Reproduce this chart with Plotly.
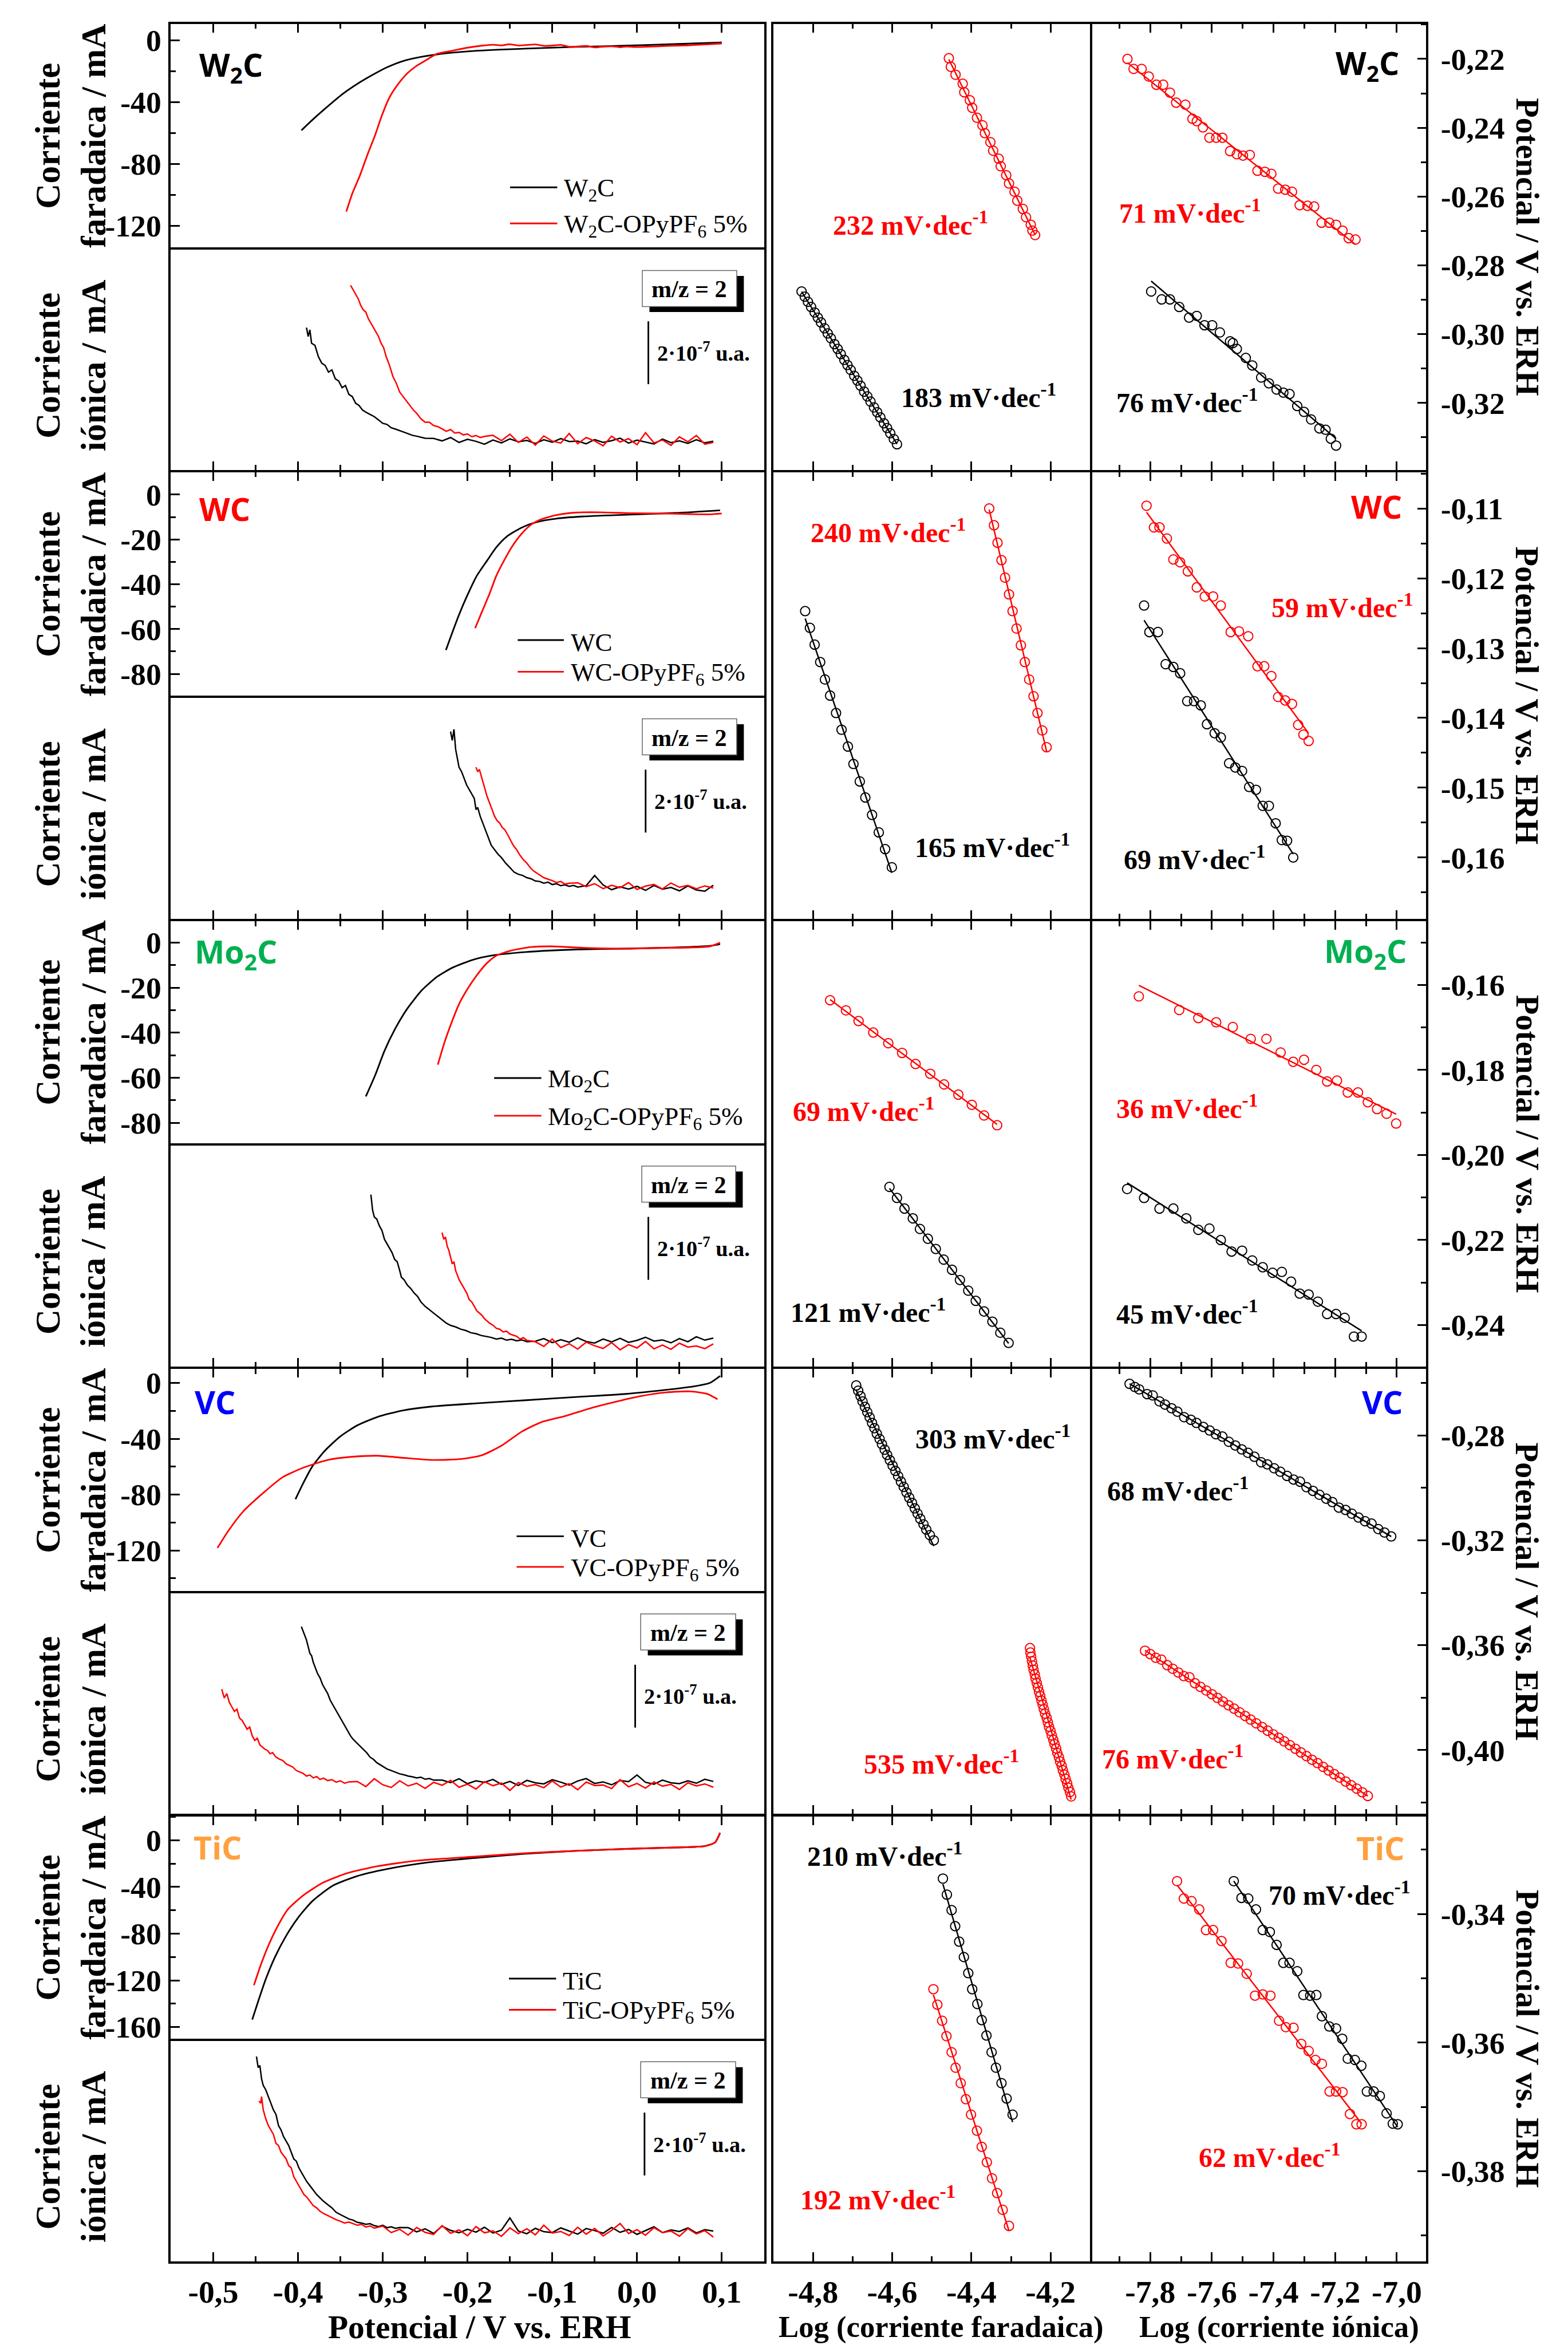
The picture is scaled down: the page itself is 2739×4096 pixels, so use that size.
import numpy as np
import plotly.graph_objects as go

# ======================= tick labels =======================
POT_TICKS = [-0.5, -0.4, -0.3, -0.2, -0.1, 0.0, 0.1]
POT_TICKTEXT = ["-0,5", "-0,4", "-0,3", "-0,2", "-0,1", "0,0", "0,1"]
LOGF_TICKS = [-4.8, -4.6, -4.4, -4.2]
LOGF_TICKTEXT = ["-4,8", "-4,6", "-4,4", "-4,2"]
LOGI_TICKS = [-7.8, -7.6, -7.4, -7.2, -7.0]
LOGI_TICKTEXT = ["-7,8", "-7,6", "-7,4", "-7,2", "-7,0"]

FAR_TICKS = [[0, -40, -80, -120], [0, -20, -40, -60, -80], [0, -20, -40, -60, -80],
             [0, -40, -80, -120], [0, -40, -80, -120, -160]]
FAR_TICKTEXT = [["0", "-40", "-80", "-120"], ["0", "-20", "-40", "-60", "-80"],
                ["0", "-20", "-40", "-60", "-80"], ["0", "-40", "-80", "-120"],
                ["0", "-40", "-80", "-120", "-160"]]
E_TICKS = [[-0.22, -0.24, -0.26, -0.28, -0.30, -0.32],
           [-0.11, -0.12, -0.13, -0.14, -0.15, -0.16],
           [-0.16, -0.18, -0.20, -0.22, -0.24],
           [-0.28, -0.32, -0.36, -0.40],
           [-0.34, -0.36, -0.38]]
E_TICKTEXT = [["-0,22", "-0,24", "-0,26", "-0,28", "-0,30", "-0,32"],
              ["-0,11", "-0,12", "-0,13", "-0,14", "-0,15", "-0,16"],
              ["-0,16", "-0,18", "-0,20", "-0,22", "-0,24"],
              ["-0,28", "-0,32", "-0,36", "-0,40"],
              ["-0,34", "-0,36", "-0,38"]]

MAT_LABELS = ["W<sub>2</sub>C", "WC", "Mo<sub>2</sub>C", "VC", "TiC"]
MAT_COLORS = ["#000000", "#ff0000", "#00b050", "#0000ff", "#ffa040"]
LEG_PURE = ["W<sub>2</sub>C", "WC", "Mo<sub>2</sub>C", "VC", "TiC"]
LEG_MOD = ["W<sub>2</sub>C-OPyPF<sub>6</sub> 5%", "WC-OPyPF<sub>6</sub> 5%",
           "Mo<sub>2</sub>C-OPyPF<sub>6</sub> 5%", "VC-OPyPF<sub>6</sub> 5%",
           "TiC-OPyPF<sub>6</sub> 5%"]

# Tafel slopes (mV/dec)
SLOPE_FAR_MOD = [232, 240, 69, 535, 192]
SLOPE_FAR_PURE = [183, 165, 121, 303, 210]
SLOPE_ION_MOD = [71, 59, 36, 76, 62]
SLOPE_ION_PURE = [76, 69, 45, 68, 70]

# ======================= faradaic current (mA) vs E =======================
W2C_FAR_X = [-0.396, -0.383, -0.365, -0.348, -0.330, -0.312, -0.295, -0.277, -0.254, -0.230, -0.189, -0.131, -0.072, -0.013, 0.045, 0.100]
W2C_FAR_Y = [-58.3, -51.5, -42.8, -35.0, -28.2, -22.4, -17.5, -13.6, -10.7, -8.75, -6.8, -5.4, -4.3, -3.5, -2.5, -1.4]
W2C_MOD_FAR_X = [-0.343, -0.336, -0.327, -0.318, -0.309, -0.301, -0.292, -0.283, -0.271, -0.260, -0.248, -0.236, -0.218, -0.201, -0.183, -0.170, -0.160, -0.150, -0.140, -0.131, -0.120, -0.110, -0.101, -0.090, -0.080, -0.072, -0.060, -0.050, -0.043, -0.030, -0.020, -0.013, 0.000, 0.016, 0.030, 0.045, 0.060, 0.074, 0.088, 0.100]
W2C_MOD_FAR_Y = [-110.8, -99.2, -87.5, -73.9, -61.3, -48.6, -36.9, -29.2, -21.4, -16.5, -12.6, -8.75, -6.8, -4.9, -3.5, -2.9, -3.3, -2.6, -3.4, -3.1, -2.7, -3.6, -3.5, -3.0, -4.2, -4.1, -3.7, -4.6, -4.3, -3.9, -4.5, -4.1, -4.4, -4.1, -3.8, -3.5, -3.3, -2.9, -2.5, -2.1]

WC_FAR_X = [-0.2255, -0.218, -0.210, -0.201, -0.189, -0.177, -0.166, -0.154, -0.136, -0.119, -0.095, -0.066, -0.013, 0.045, 0.098]
WC_FAR_Y = [-69.4, -61.6, -53.6, -45.6, -36.2, -29.5, -23.5, -18.8, -14.7, -12.3, -10.7, -9.8, -9.0, -8.2, -7.0]
WC_MOD_FAR_X = [-0.191, -0.183, -0.174, -0.166, -0.157, -0.148, -0.136, -0.125, -0.113, -0.095, -0.072, -0.043, -0.007, 0.028, 0.063, 0.086, 0.100]
WC_MOD_FAR_Y = [-59.6, -52.3, -44.2, -36.2, -29.5, -23.5, -17.4, -13.4, -11.0, -9.1, -8.0, -7.9, -8.3, -8.4, -8.7, -8.8, -8.4]

MO2C_FAR_X = [-0.320, -0.309, -0.298, -0.286, -0.271, -0.254, -0.236, -0.218, -0.195, -0.172, -0.131, -0.072, -0.013, 0.045, 0.086, 0.098]
MO2C_FAR_Y = [-68.3, -58.9, -48.1, -38.7, -29.3, -21.2, -15.2, -11.2, -7.8, -5.8, -4.2, -3.1, -2.7, -2.2, -1.5, -0.7]
MO2C_MOD_FAR_X = [-0.235, -0.227, -0.218, -0.210, -0.201, -0.189, -0.177, -0.166, -0.148, -0.125, -0.101, -0.072, -0.043, -0.007, 0.028, 0.063, 0.086, 0.098]
MO2C_MOD_FAR_Y = [-54.2, -44.1, -34.7, -27.3, -21.2, -14.5, -9.1, -5.8, -3.5, -2.0, -1.7, -2.2, -2.6, -2.7, -2.4, -2.2, -1.7, -0.1]

VC_FAR_X = [-0.403, -0.394, -0.383, -0.368, -0.350, -0.330, -0.306, -0.277, -0.242, -0.189, -0.131, -0.072, -0.013, 0.034, 0.069, 0.086, 0.098]
VC_FAR_Y = [-83.3, -72.0, -59.7, -48.4, -38.3, -30.4, -24.3, -19.8, -16.9, -14.6, -12.4, -10.1, -7.9, -5.0, -2.3, 0.0, 5.0]
VC_MOD_FAR_X = [-0.495, -0.482, -0.465, -0.441, -0.418, -0.394, -0.365, -0.336, -0.306, -0.277, -0.242, -0.207, -0.183, -0.160, -0.136, -0.113, -0.084, -0.054, -0.025, 0.004, 0.034, 0.063, 0.083, 0.095]
VC_MOD_FAR_Y = [-118.2, -105.8, -92.3, -78.8, -67.5, -60.8, -55.2, -52.9, -52.2, -53.6, -55.2, -54.5, -51.8, -45.0, -34.9, -28.1, -23.6, -18.0, -13.5, -9.5, -6.8, -6.1, -7.9, -11.7]

TIC_FAR_X = [-0.454, -0.447, -0.438, -0.427, -0.415, -0.400, -0.383, -0.359, -0.330, -0.295, -0.248, -0.189, -0.131, -0.072, -0.013, 0.045, 0.080, 0.092, 0.098]
TIC_FAR_Y = [-153.6, -138.0, -118.9, -99.8, -83.1, -66.4, -52.1, -38.9, -30.6, -24.6, -19.1, -15.0, -11.5, -9.1, -7.4, -6.2, -5.0, -1.9, 6.4]
TIC_MOD_FAR_X = [-0.452, -0.444, -0.435, -0.424, -0.412, -0.394, -0.371, -0.342, -0.306, -0.259, -0.189, -0.131, -0.072, -0.013, 0.045, 0.080, 0.092, 0.098]
TIC_MOD_FAR_Y = [-124.2, -107.0, -90.3, -73.6, -59.2, -47.3, -36.5, -28.2, -22.2, -17.4, -13.9, -11.0, -9.1, -7.4, -6.2, -5.0, -1.9, 6.4]

# ======================= ionic current m/z=2 (arb. units, 0-100) =======================
FLAT_X = [-0.45, -0.44, -0.43, -0.42, -0.41, -0.40, -0.39, -0.38, -0.37, -0.36, -0.35, -0.34, -0.33, -0.32, -0.31, -0.30, -0.29, -0.28, -0.27, -0.26, -0.25, -0.24, -0.23, -0.22, -0.21, -0.20, -0.19, -0.18, -0.17, -0.16, -0.15, -0.14, -0.13, -0.12, -0.11, -0.10, -0.09, -0.08, -0.07, -0.06, -0.05, -0.04, -0.03, -0.02, -0.01, 0.00, 0.01, 0.02, 0.03, 0.04, 0.05, 0.06, 0.07, 0.08, 0.09]

W2C_ION_X = [-0.390, -0.388, -0.386, -0.384, -0.380, -0.376, -0.372, -0.368, -0.364, -0.360, -0.356, -0.352, -0.348, -0.344, -0.340, -0.336, -0.332, -0.328, -0.324, -0.320, -0.315, -0.310, -0.305, -0.300, -0.295, -0.290, -0.285, -0.280, -0.275, -0.270, -0.265, -0.260, -0.255, -0.250]
W2C_ION_Y = [64, 60, 63, 57, 56, 51, 48, 47, 44, 45, 41, 40, 37, 38, 34, 33, 30, 29, 27, 26, 25, 24, 22.5, 21, 20.5, 19, 18.4, 17.6, 17.0, 16.3, 15.6, 15.2, 14.7, 14.3]
W2C_ION_FLAT = [14.2, 13.1, 14.6, 12.4, 13.8, 12.9, 11.6, 13.5, 12.2, 14.0, 12.7, 13.3, 11.9, 13.6, 12.5, 14.1, 12.8, 13.0, 11.8, 13.7, 12.4, 13.2, 14.3, 12.1, 13.4, 12.6, 11.7, 13.9, 12.3, 13.1, 12.0, 13.6, 12.2, 12.9]
W2C_MOD_ION_X = [-0.338, -0.335, -0.332, -0.329, -0.326, -0.323, -0.320, -0.317, -0.314, -0.311, -0.308, -0.305, -0.302, -0.299, -0.296, -0.292, -0.288, -0.284, -0.280, -0.276, -0.272, -0.268, -0.264, -0.260, -0.255, -0.250, -0.245, -0.240, -0.235, -0.230, -0.225, -0.220, -0.215, -0.210, -0.205, -0.200, -0.195, -0.190, -0.185, -0.180]
W2C_MOD_ION_Y = [83, 81, 79, 77, 74, 72, 71, 68, 66, 64, 62, 60, 57, 55, 51, 47, 42, 39, 35, 33, 31, 29, 27, 25.5, 23, 21.5, 21.5, 20, 19.5, 18.5, 17.4, 18.2, 16.6, 16.9, 15.8, 16.2, 15.0, 15.5, 14.6, 15.1]
W2C_MOD_ION_FLAT = [15.6, 13.2, 16.1, 12.4, 14.8, 11.2, 15.3, 13.0, 12.1, 16.4, 11.8, 14.6, 13.1, 10.9, 15.2, 12.6, 14.1, 11.4, 16.8, 12.2, 13.5, 11.1, 14.9, 12.7, 15.5, 11.6, 12.4]

WC_ION_X = [-0.220, -0.218, -0.216, -0.214, -0.212, -0.210, -0.207, -0.204, -0.201, -0.198, -0.195, -0.192, -0.190, -0.188, -0.185, -0.182, -0.179, -0.176, -0.172, -0.168, -0.164, -0.160, -0.155, -0.150, -0.145, -0.140, -0.135, -0.130, -0.125, -0.120, -0.115, -0.110, -0.105, -0.100, -0.095, -0.090, -0.085, -0.080, -0.075, -0.070]
WC_ION_Y = [84, 80, 85, 76, 72, 68, 66, 63, 60, 58, 56, 54, 49, 50, 46, 43, 40, 37, 33, 31, 29, 27.5, 25, 23, 21, 20, 19.5, 18.5, 18, 17, 16.8, 16, 16.5, 15.4, 15.8, 14.9, 15.3, 14.6, 15.0, 14.3]
WC_ION_FLAT = [14.9, 19.5, 15.2, 13.1, 14.4, 13.4, 14.6, 12.8, 15.0, 13.3, 14.1, 12.6, 14.8, 13.0, 12.4, 15.1]
WC_MOD_ION_X = [-0.190, -0.188, -0.186, -0.183, -0.180, -0.177, -0.174, -0.171, -0.168, -0.165, -0.162, -0.159, -0.156, -0.153, -0.150, -0.146, -0.142, -0.138, -0.134, -0.130, -0.126, -0.122, -0.118, -0.114, -0.110, -0.105, -0.100, -0.095, -0.090, -0.085, -0.080]
WC_MOD_ION_Y = [68, 66, 67, 63, 59, 55, 52, 49, 46, 44, 43, 41, 40, 38, 36, 33, 31, 28.5, 26.5, 25, 23, 21.5, 20.5, 19.6, 18.5, 17.8, 17.2, 16.3, 16.8, 15.6, 16.0]
WC_MOD_ION_FLAT = [16.2, 14.5, 15.8, 13.6, 15.1, 14.0, 16.3, 13.2, 14.7, 15.5, 13.4, 16.1, 14.2, 15.0, 13.5, 14.8, 13.9]

MO2C_ION_X = [-0.314, -0.312, -0.310, -0.307, -0.304, -0.301, -0.298, -0.295, -0.292, -0.289, -0.286, -0.283, -0.280, -0.278, -0.275, -0.271, -0.267, -0.263, -0.259, -0.255, -0.250, -0.245, -0.240, -0.235, -0.230, -0.225, -0.220, -0.214, -0.208, -0.202, -0.196, -0.190, -0.184, -0.178, -0.172, -0.166, -0.160, -0.154, -0.148, -0.142, -0.136, -0.130]
MO2C_ION_Y = [77, 70, 67, 66, 63, 61, 57, 55, 53, 51, 48, 47, 43, 40, 39, 36.5, 35, 33, 31.5, 29, 27, 25.5, 24, 22.5, 21, 19.5, 18.5, 17.8, 16.8, 16.2, 15.2, 14.8, 14.0, 13.6, 13.1, 12.4, 12.8, 11.9, 12.3, 11.6, 12.0, 11.2]
MO2C_ION_FLAT = [11.4, 12.6, 10.8, 12.1, 11.0, 12.9, 11.3, 10.6, 12.4, 11.1, 12.7, 10.9, 11.8, 13.2, 11.5, 12.0, 10.7, 12.6, 11.2, 13.4, 11.9, 12.8]
MO2C_MOD_ION_X = [-0.230, -0.228, -0.226, -0.224, -0.222, -0.220, -0.218, -0.216, -0.214, -0.212, -0.210, -0.207, -0.204, -0.201, -0.198, -0.195, -0.192, -0.189, -0.186, -0.183, -0.180, -0.177, -0.174, -0.170, -0.166, -0.162, -0.158, -0.154, -0.150, -0.146, -0.142, -0.138, -0.134, -0.130]
MO2C_MOD_ION_Y = [60, 57, 58, 54, 52, 49, 46, 47, 43, 41, 39, 37, 35, 33, 30, 29, 27, 25, 24, 23, 21.5, 20.5, 19.5, 18.6, 17.2, 16.8, 15.6, 15.9, 14.6, 14.1, 13.6, 12.4, 13.0, 11.8]
MO2C_MOD_ION_FLAT = [11.2, 9.1, 12.4, 8.6, 10.3, 7.9, 11.0, 9.4, 8.2, 10.8, 7.6, 9.9, 8.4, 11.3, 8.0, 9.7, 7.8, 10.5, 8.8, 9.3, 8.1, 10.2]

VC_ION_X = [-0.396, -0.394, -0.392, -0.390, -0.388, -0.386, -0.384, -0.382, -0.380, -0.377, -0.374, -0.371, -0.368, -0.365, -0.362, -0.359, -0.356, -0.353, -0.350, -0.347, -0.344, -0.341, -0.338, -0.335, -0.331, -0.327, -0.323, -0.319, -0.315, -0.311, -0.307, -0.303, -0.299, -0.295, -0.290, -0.285, -0.280, -0.275, -0.270, -0.265, -0.260, -0.255, -0.250, -0.245, -0.240]
VC_ION_Y = [84, 82, 80, 78, 75, 72, 71, 68, 66, 63, 61, 58, 56, 54, 51, 49, 47, 45, 43, 41, 39, 37, 35, 33.5, 32, 30.5, 29, 27.5, 25.5, 24.5, 23, 22, 21, 20.2, 19.5, 18.8, 18.0, 17.6, 17.0, 16.7, 16.2, 16.5, 15.6, 15.9, 15.2]
VC_ION_FLAT = [15.2, 14.1, 15.8, 13.6, 14.9, 14.2, 15.5, 13.3, 14.6, 12.8, 15.1, 14.0, 13.5, 15.4, 14.3, 13.0, 14.8, 15.9, 13.7, 14.4, 13.1, 15.0, 14.5, 17.5, 14.2, 13.4, 15.2, 14.0, 13.6, 14.9, 13.8, 15.6, 14.6]
VC_MOD_ION_X = [-0.490, -0.487, -0.484, -0.481, -0.478, -0.475, -0.472, -0.469, -0.466, -0.463, -0.460, -0.457, -0.454, -0.451, -0.448, -0.445, -0.442, -0.439, -0.436, -0.433, -0.430, -0.426, -0.422, -0.418, -0.414, -0.410, -0.406, -0.402, -0.398, -0.394, -0.390, -0.386, -0.382, -0.378, -0.374, -0.370, -0.365, -0.360, -0.355, -0.350, -0.345, -0.340]
VC_MOD_ION_Y = [56, 52, 54, 50, 48, 46, 47, 43, 42, 40, 38, 39, 35, 33, 34, 31, 30, 29, 28.5, 27, 27.5, 25.5, 24.6, 24, 22.5, 21.8, 21, 19.5, 18.8, 18.2, 17.0, 17.5, 16.2, 16.8, 15.5, 16.1, 15.0, 15.4, 14.3, 14.9, 13.8, 14.4]
VC_MOD_ION_FLAT = [14.6, 12.3, 15.8, 13.1, 11.9, 14.9, 12.6, 13.8, 11.5, 14.2, 12.9, 15.1, 12.0, 13.4, 11.2, 14.5, 12.7, 13.9, 10.6, 14.1, 12.4, 13.2, 11.8, 14.8, 12.1, 13.6, 10.9, 14.3, 12.8, 13.0, 11.4, 15.4, 12.2, 13.7, 11.6, 14.4, 12.5, 13.3, 11.0, 14.0, 12.6, 13.5, 12.0]

TIC_ION_X = [-0.449, -0.447, -0.445, -0.443, -0.441, -0.438, -0.435, -0.432, -0.429, -0.426, -0.423, -0.420, -0.417, -0.414, -0.411, -0.408, -0.405, -0.402, -0.399, -0.396, -0.393, -0.390, -0.386, -0.382, -0.378, -0.374, -0.370, -0.365, -0.360, -0.355, -0.350, -0.345, -0.340, -0.335, -0.330, -0.325, -0.320, -0.315, -0.310, -0.305, -0.300, -0.295, -0.290, -0.285, -0.280]
TIC_ION_Y = [92, 87, 88, 82, 79, 77, 74, 71, 68, 66, 61, 59, 56, 54, 52, 49, 46, 45, 42, 40, 38, 36, 34, 32, 30, 28.5, 27, 25.5, 24, 22, 21, 20, 19, 18.5, 17.5, 17.2, 16.6, 16.9, 16.0, 15.6, 16.2, 15.1, 15.5, 14.8, 15.2]
TIC_ION_FLAT = [15.1, 13.2, 14.6, 12.5, 15.8, 13.9, 12.8, 14.4, 13.1, 15.3, 12.7, 14.0, 19.5, 13.6, 12.4, 14.8, 13.3, 12.9, 15.0, 13.5, 12.2, 14.7, 13.8, 12.6, 15.2, 13.0, 14.3, 12.1, 13.7, 15.5, 12.9, 14.1, 13.4, 15.0, 12.7, 14.2, 13.6]
TIC_MOD_ION_X = [-0.446, -0.444, -0.443, -0.441, -0.438, -0.435, -0.432, -0.429, -0.426, -0.423, -0.420, -0.417, -0.414, -0.411, -0.408, -0.405, -0.402, -0.399, -0.396, -0.393, -0.390, -0.386, -0.382, -0.378, -0.374, -0.370, -0.365, -0.360, -0.355, -0.350, -0.345, -0.340, -0.335, -0.330, -0.325, -0.320, -0.315, -0.310]
TIC_MOD_ION_Y = [72, 71, 74, 68, 64, 61, 59, 57, 53, 52, 49, 47.5, 46, 43, 42, 38, 36, 34, 32, 30, 29, 27, 25, 24, 22.5, 21.5, 20.5, 19.6, 18.7, 18.0, 17.2, 17.6, 16.8, 16.2, 16.6, 15.4, 15.9, 14.9]
TIC_MOD_ION_FLAT = [15.8, 12.9, 14.4, 11.8, 15.2, 13.0, 12.1, 16.0, 12.6, 14.1, 11.5, 15.6, 12.8, 13.7, 11.2, 15.0, 12.4, 14.6, 11.9, 16.2, 12.7, 13.4, 11.6, 15.3, 12.2, 14.8, 11.4, 13.9, 17.0, 12.5, 14.2, 11.7, 15.1, 12.9, 13.6, 11.3, 14.7, 12.3, 13.8, 10.9]

# ======================= Tafel data: E (V) vs log(current) =======================
W2C_TF_FAR_MOD_X = [-4.457, -4.452, -4.440, -4.422, -4.418, -4.404, -4.398, -4.386, -4.372, -4.366, -4.352, -4.345, -4.331, -4.326, -4.312, -4.305, -4.291, -4.284, -4.270, -4.262, -4.250, -4.246, -4.239]
W2C_TF_FAR_MOD_Y = [-0.2198, -0.2223, -0.2246, -0.2272, -0.2297, -0.2320, -0.2342, -0.2371, -0.2393, -0.2416, -0.2442, -0.2467, -0.2490, -0.2512, -0.2538, -0.2562, -0.2586, -0.2612, -0.2636, -0.2660, -0.2682, -0.2699, -0.2712]
W2C_TF_FAR_PURE_X = [-4.829, -4.821, -4.813, -4.805, -4.796, -4.788, -4.780, -4.771, -4.763, -4.755, -4.746, -4.738, -4.730, -4.721, -4.713, -4.705, -4.696, -4.688, -4.680, -4.671, -4.663, -4.655, -4.646, -4.638, -4.630, -4.621, -4.613, -4.605, -4.596, -4.588]
W2C_TF_FAR_PURE_Y = [-0.2876, -0.2891, -0.2906, -0.2921, -0.2937, -0.2952, -0.2966, -0.2983, -0.2998, -0.3012, -0.3029, -0.3043, -0.3058, -0.3075, -0.3090, -0.3104, -0.3121, -0.3135, -0.3150, -0.3167, -0.3181, -0.3196, -0.3213, -0.3227, -0.3242, -0.3259, -0.3273, -0.3288, -0.3305, -0.3320]
W2C_TF_ION_MOD_X = [-7.874, -7.854, -7.828, -7.805, -7.780, -7.758, -7.736, -7.716, -7.686, -7.663, -7.649, -7.629, -7.608, -7.586, -7.566, -7.541, -7.519, -7.499, -7.477, -7.452, -7.428, -7.407, -7.385, -7.362, -7.340, -7.315, -7.290, -7.268, -7.244, -7.219, -7.197, -7.176, -7.156, -7.134]
W2C_TF_ION_MOD_Y = [-0.2200, -0.2229, -0.2229, -0.2251, -0.2275, -0.2275, -0.2298, -0.2327, -0.2333, -0.2374, -0.2381, -0.2399, -0.2429, -0.2429, -0.2429, -0.2468, -0.2477, -0.2481, -0.2479, -0.2525, -0.2528, -0.2534, -0.2577, -0.2580, -0.2586, -0.2625, -0.2627, -0.2629, -0.2676, -0.2676, -0.2682, -0.2699, -0.2721, -0.2725]
W2C_TF_ION_PURE_X = [-7.797, -7.763, -7.736, -7.706, -7.674, -7.649, -7.624, -7.599, -7.574, -7.541, -7.532, -7.519, -7.490, -7.469, -7.440, -7.415, -7.390, -7.368, -7.348, -7.323, -7.301, -7.278, -7.251, -7.231, -7.214, -7.197]
W2C_TF_ION_PURE_Y = [-0.2876, -0.2899, -0.2899, -0.2921, -0.2952, -0.2947, -0.2974, -0.2974, -0.2995, -0.3021, -0.3026, -0.3043, -0.3069, -0.3091, -0.3126, -0.3143, -0.3161, -0.3170, -0.3174, -0.3209, -0.3226, -0.3248, -0.3274, -0.3278, -0.3304, -0.3324]

WC_TF_FAR_MOD_X = [-4.355, -4.343, -4.334, -4.324, -4.315, -4.305, -4.296, -4.286, -4.275, -4.265, -4.254, -4.243, -4.233, -4.221, -4.210]
WC_TF_FAR_MOD_Y = [-0.1100, -0.1124, -0.1149, -0.1174, -0.1199, -0.1223, -0.1247, -0.1272, -0.1296, -0.1320, -0.1345, -0.1369, -0.1393, -0.1418, -0.1442]
WC_TF_FAR_PURE_X = [-4.820, -4.808, -4.796, -4.782, -4.770, -4.757, -4.742, -4.728, -4.712, -4.698, -4.682, -4.668, -4.651, -4.634, -4.618, -4.601]
WC_TF_FAR_PURE_Y = [-0.1247, -0.1271, -0.1295, -0.1320, -0.1345, -0.1368, -0.1393, -0.1417, -0.1441, -0.1466, -0.1491, -0.1514, -0.1539, -0.1564, -0.1588, -0.1614]
WC_TF_ION_MOD_X = [-7.812, -7.788, -7.770, -7.746, -7.725, -7.703, -7.678, -7.649, -7.623, -7.596, -7.571, -7.539, -7.512, -7.482, -7.452, -7.430, -7.407, -7.385, -7.362, -7.340, -7.320, -7.303, -7.286]
WC_TF_ION_MOD_Y = [-0.1096, -0.1127, -0.1127, -0.1143, -0.1173, -0.1177, -0.1190, -0.1213, -0.1226, -0.1226, -0.1239, -0.1277, -0.1276, -0.1283, -0.1326, -0.1326, -0.1340, -0.1370, -0.1375, -0.1380, -0.1410, -0.1424, -0.1433]
WC_TF_ION_PURE_X = [-7.820, -7.803, -7.775, -7.750, -7.725, -7.703, -7.680, -7.658, -7.636, -7.616, -7.591, -7.571, -7.544, -7.524, -7.502, -7.479, -7.457, -7.435, -7.415, -7.393, -7.373, -7.356, -7.336]
WC_TF_ION_PURE_Y = [-0.1239, -0.1277, -0.1277, -0.1323, -0.1327, -0.1336, -0.1376, -0.1376, -0.1382, -0.1409, -0.1422, -0.1428, -0.1465, -0.1471, -0.1476, -0.1499, -0.1503, -0.1526, -0.1526, -0.1551, -0.1575, -0.1576, -0.1600]

MO2C_TF_FAR_MOD_X = [-4.757, -4.717, -4.685, -4.648, -4.610, -4.575, -4.541, -4.504, -4.469, -4.433, -4.399, -4.368, -4.335]
MO2C_TF_FAR_MOD_Y = [-0.1636, -0.1660, -0.1685, -0.1712, -0.1737, -0.1760, -0.1786, -0.1809, -0.1834, -0.1858, -0.1882, -0.1907, -0.1930]
MO2C_TF_FAR_PURE_X = [-4.607, -4.588, -4.569, -4.548, -4.530, -4.510, -4.490, -4.470, -4.449, -4.429, -4.408, -4.389, -4.368, -4.347, -4.327, -4.306]
MO2C_TF_FAR_PURE_Y = [-0.2075, -0.2101, -0.2126, -0.2149, -0.2174, -0.2197, -0.2221, -0.2246, -0.2270, -0.2294, -0.2319, -0.2343, -0.2368, -0.2392, -0.2418, -0.2442]
MO2C_TF_ION_MOD_X = [-7.837, -7.706, -7.644, -7.586, -7.532, -7.474, -7.423, -7.377, -7.336, -7.301, -7.261, -7.226, -7.194, -7.159, -7.126, -7.094, -7.064, -7.033, -7.002]
MO2C_TF_ION_MOD_Y = [-0.1627, -0.1659, -0.1678, -0.1688, -0.1699, -0.1727, -0.1727, -0.1759, -0.1781, -0.1776, -0.1800, -0.1827, -0.1825, -0.1853, -0.1853, -0.1876, -0.1892, -0.1903, -0.1926]
MO2C_TF_ION_PURE_X = [-7.875, -7.820, -7.770, -7.725, -7.683, -7.644, -7.608, -7.571, -7.536, -7.502, -7.469, -7.435, -7.403, -7.373, -7.343, -7.315, -7.286, -7.256, -7.226, -7.197, -7.169, -7.139, -7.114]
MO2C_TF_ION_PURE_Y = [-0.2080, -0.2101, -0.2126, -0.2126, -0.2149, -0.2176, -0.2173, -0.2200, -0.2227, -0.2225, -0.2248, -0.2264, -0.2277, -0.2275, -0.2298, -0.2326, -0.2328, -0.2345, -0.2374, -0.2374, -0.2383, -0.2427, -0.2427]

VC_TF_FAR_MOD_X = [-4.252, -4.251, -4.249, -4.247, -4.245, -4.243, -4.240, -4.238, -4.235, -4.232, -4.229, -4.226, -4.223, -4.220, -4.217, -4.214, -4.210, -4.207, -4.204, -4.200, -4.197, -4.193, -4.190, -4.186, -4.183, -4.179, -4.176, -4.172, -4.169, -4.165, -4.162, -4.158, -4.155, -4.151, -4.148]
VC_TF_FAR_MOD_Y = [-0.3611, -0.3628, -0.3644, -0.3661, -0.3678, -0.3694, -0.3711, -0.3728, -0.3744, -0.3761, -0.3778, -0.3794, -0.3811, -0.3827, -0.3844, -0.3861, -0.3877, -0.3894, -0.3911, -0.3927, -0.3944, -0.3961, -0.3977, -0.3994, -0.4011, -0.4027, -0.4044, -0.4060, -0.4077, -0.4094, -0.4110, -0.4127, -0.4144, -0.4160, -0.4177]
VC_TF_FAR_PURE_X = [-4.691, -4.686, -4.680, -4.675, -4.669, -4.663, -4.657, -4.651, -4.645, -4.639, -4.632, -4.626, -4.619, -4.613, -4.606, -4.599, -4.592, -4.585, -4.578, -4.571, -4.564, -4.557, -4.550, -4.543, -4.536, -4.529, -4.521, -4.514, -4.505, -4.495]
VC_TF_FAR_PURE_Y = [-0.2609, -0.2629, -0.2650, -0.2670, -0.2691, -0.2711, -0.2731, -0.2752, -0.2772, -0.2793, -0.2813, -0.2833, -0.2854, -0.2874, -0.2894, -0.2915, -0.2935, -0.2955, -0.2976, -0.2996, -0.3017, -0.3037, -0.3057, -0.3078, -0.3098, -0.3118, -0.3139, -0.3159, -0.3180, -0.3200]
VC_TF_ION_MOD_X = [-7.817, -7.800, -7.782, -7.764, -7.745, -7.727, -7.709, -7.691, -7.673, -7.655, -7.637, -7.618, -7.600, -7.582, -7.564, -7.546, -7.528, -7.510, -7.492, -7.474, -7.456, -7.437, -7.419, -7.401, -7.383, -7.365, -7.347, -7.329, -7.311, -7.293, -7.275, -7.257, -7.239, -7.221, -7.203, -7.185, -7.166, -7.148, -7.130, -7.112, -7.094]
VC_TF_ION_MOD_Y = [-0.3621, -0.3634, -0.3648, -0.3655, -0.3676, -0.3690, -0.3704, -0.3718, -0.3722, -0.3745, -0.3759, -0.3773, -0.3787, -0.3801, -0.3815, -0.3829, -0.3842, -0.3856, -0.3870, -0.3884, -0.3898, -0.3912, -0.3926, -0.3940, -0.3953, -0.3967, -0.3981, -0.3995, -0.4009, -0.4023, -0.4037, -0.4050, -0.4064, -0.4078, -0.4092, -0.4105, -0.4120, -0.4134, -0.4147, -0.4161, -0.4175]
VC_TF_ION_PURE_X = [-7.867, -7.850, -7.836, -7.810, -7.792, -7.770, -7.752, -7.731, -7.712, -7.690, -7.668, -7.650, -7.628, -7.607, -7.587, -7.566, -7.545, -7.524, -7.503, -7.483, -7.462, -7.440, -7.420, -7.398, -7.378, -7.356, -7.335, -7.314, -7.293, -7.272, -7.251, -7.229, -7.209, -7.188, -7.166, -7.146, -7.124, -7.103, -7.082, -7.060, -7.040, -7.018]
VC_TF_ION_PURE_Y = [-0.2603, -0.2615, -0.2624, -0.2642, -0.2647, -0.2670, -0.2682, -0.2696, -0.2709, -0.2730, -0.2740, -0.2752, -0.2767, -0.2781, -0.2795, -0.2804, -0.2824, -0.2838, -0.2853, -0.2866, -0.2881, -0.2902, -0.2910, -0.2925, -0.2938, -0.2954, -0.2968, -0.2976, -0.2997, -0.3011, -0.3026, -0.3041, -0.3054, -0.3075, -0.3084, -0.3098, -0.3113, -0.3127, -0.3136, -0.3157, -0.3170, -0.3185]

TIC_TF_FAR_MOD_X = [-4.496, -4.486, -4.474, -4.463, -4.450, -4.440, -4.427, -4.414, -4.401, -4.386, -4.374, -4.361, -4.348, -4.335, -4.321, -4.305]
TIC_TF_FAR_MOD_Y = [-0.3517, -0.3541, -0.3566, -0.3590, -0.3615, -0.3639, -0.3663, -0.3688, -0.3712, -0.3737, -0.3762, -0.3786, -0.3811, -0.3834, -0.3860, -0.3885]
TIC_TF_FAR_PURE_X = [-4.472, -4.462, -4.450, -4.441, -4.431, -4.419, -4.408, -4.398, -4.385, -4.374, -4.362, -4.349, -4.338, -4.324, -4.311, -4.296]
TIC_TF_FAR_PURE_Y = [-0.3345, -0.3370, -0.3394, -0.3419, -0.3443, -0.3467, -0.3492, -0.3517, -0.3540, -0.3565, -0.3589, -0.3615, -0.3639, -0.3663, -0.3687, -0.3712]
TIC_TF_ION_MOD_X = [-7.713, -7.691, -7.666, -7.641, -7.619, -7.596, -7.569, -7.539, -7.515, -7.487, -7.460, -7.435, -7.410, -7.382, -7.360, -7.335, -7.310, -7.286, -7.264, -7.243, -7.218, -7.197, -7.176, -7.152, -7.131, -7.114]
TIC_TF_ION_MOD_Y = [-0.3349, -0.3376, -0.3380, -0.3393, -0.3425, -0.3425, -0.3442, -0.3476, -0.3477, -0.3493, -0.3527, -0.3525, -0.3527, -0.3566, -0.3576, -0.3577, -0.3602, -0.3613, -0.3627, -0.3633, -0.3676, -0.3676, -0.3677, -0.3711, -0.3727, -0.3727]
TIC_TF_ION_PURE_X = [-7.529, -7.504, -7.482, -7.457, -7.435, -7.412, -7.390, -7.368, -7.348, -7.323, -7.303, -7.281, -7.261, -7.243, -7.219, -7.197, -7.177, -7.159, -7.136, -7.115, -7.097, -7.075, -7.055, -7.033, -7.013, -6.997]
TIC_TF_ION_PURE_Y = [-0.3349, -0.3375, -0.3376, -0.3393, -0.3425, -0.3428, -0.3448, -0.3476, -0.3476, -0.3489, -0.3526, -0.3527, -0.3526, -0.3559, -0.3575, -0.3578, -0.3594, -0.3625, -0.3627, -0.3636, -0.3676, -0.3676, -0.3683, -0.3710, -0.3726, -0.3727]

# ======================= geometry (reference pixel coords) =======================
REF_W, REF_H = 2857, 4273
SC = 0.958
FIG_W, FIG_H = 2739, 4096

X_LEFT = (303, 1384)
X_MID = (1401, 1978)
X_RIGHT = (1978, 2590)
TOPS = [30, 850, 1671, 2490, 3308]
SPLITS = [439, 1259, 2077, 2896, 3715]
BOTS = [846, 1667, 2486, 3304, 4122]

POT_RANGE = [-0.55, 0.15]
LOGF_RANGE = [-4.9, -4.1]
LOGI_RANGE = [-7.995, -6.905]
FAR_RANGES = [[-134, 10.6], [-89.8, 10], [-89, 9.5], [-149, 10], [-170, 20.6]]
FAR_MINOR = [20, 10, 10, 20, 20]
E_RANGES = [[-0.3395, -0.2098], [-0.1688, -0.1048], [-0.2498, -0.145], [-0.4244, -0.2546], [-0.394, -0.3248]]
E_MINOR = [0.01, 0.005, 0.01, 0.02, 0.01]

MAT_LEFT_POS = [(353, 108), (353, 917), (344, 1730), (344, 2550), (342, 3365)]
MAT_RIGHT_POS = [(2543, 105), (2548, 913), (2557, 1729), (2550, 2550), (2553, 3366)]
SLOPE_POS = [  # far-mod, far-pure, ion-mod, ion-pure (center x, center y)
    [(1651, 395), (1775, 710), (2160, 373), (2155, 719)],
    [(1610, 957), (1800, 1533), (2437, 1094), (2168, 1555)],
    [(1565, 2016), (1574, 2383), (2155, 2010), (2154, 2386)],
    [(1707, 3209), (1801, 2614), (2128, 3200), (2138, 2710)],
    [(1591, 4006), (1604, 3378), (2305, 3929), (2432, 3449)],
]
LEG_LINE_X = [(921, 1007), (935, 1019), (892, 978), (933, 1019), (919, 1005)]
LEG_ROWS = [(329, 395), (1157, 1215), (1958, 2027), (2796, 2852), (3605, 3662)]
MZ_BOX_X = [(1162, 1334), (1162, 1334), (1161, 1332), (1159, 1332), (1159, 1332)]
BAR_X = [1173, 1168, 1173, 1149, 1166]

SERIF = "Liberation Serif"
SANS = "Open Sans"
RED = "#ff0000"
BLK = "#000000"
LW = 4


def fx(x):
    return x / REF_W


def fy(y):
    return 1 - y / REF_H


def f(v):
    return v * SC


def aname(k, letter):
    return f"{letter}axis" if k == 1 else f"{letter}axis{k}"


def aref(k, letter):
    return letter if k == 1 else f"{letter}{k}"


def font(size, color=BLK, family=SERIF, bold=True):
    d = dict(family=family, size=f(size), color=color)
    if bold:
        d["weight"] = "bold"
    return d


def minor(dt):
    return dict(ticks="inside", ticklen=f(9), tickwidth=3, tickcolor=BLK, showgrid=False, dtick=dt, tick0=0)


def ionic(sx, sy, flat):
    n = len(flat)
    fxs = FLAT_X[-n:]
    xs = list(sx)
    ys = list(sy)
    for a, b in zip(fxs, flat):
        if a > sx[-1]:
            xs.append(a)
            ys.append(b)
    return xs, ys


COMMON = dict(showline=True, linecolor=BLK, linewidth=LW, showgrid=False, zeroline=False,
              ticks="inside", tickcolor=BLK, tickwidth=3, ticklen=f(16))

BLOCKS = [
    dict(far=[(W2C_FAR_X, W2C_FAR_Y), (W2C_MOD_FAR_X, W2C_MOD_FAR_Y)],
         ion=[ionic(W2C_ION_X, W2C_ION_Y, W2C_ION_FLAT), ionic(W2C_MOD_ION_X, W2C_MOD_ION_Y, W2C_MOD_ION_FLAT)],
         tf=[(W2C_TF_FAR_MOD_X, W2C_TF_FAR_MOD_Y), (W2C_TF_FAR_PURE_X, W2C_TF_FAR_PURE_Y),
             (W2C_TF_ION_MOD_X, W2C_TF_ION_MOD_Y), (W2C_TF_ION_PURE_X, W2C_TF_ION_PURE_Y)]),
    dict(far=[(WC_FAR_X, WC_FAR_Y), (WC_MOD_FAR_X, WC_MOD_FAR_Y)],
         ion=[ionic(WC_ION_X, WC_ION_Y, WC_ION_FLAT), ionic(WC_MOD_ION_X, WC_MOD_ION_Y, WC_MOD_ION_FLAT)],
         tf=[(WC_TF_FAR_MOD_X, WC_TF_FAR_MOD_Y), (WC_TF_FAR_PURE_X, WC_TF_FAR_PURE_Y),
             (WC_TF_ION_MOD_X, WC_TF_ION_MOD_Y), (WC_TF_ION_PURE_X, WC_TF_ION_PURE_Y)]),
    dict(far=[(MO2C_FAR_X, MO2C_FAR_Y), (MO2C_MOD_FAR_X, MO2C_MOD_FAR_Y)],
         ion=[ionic(MO2C_ION_X, MO2C_ION_Y, MO2C_ION_FLAT), ionic(MO2C_MOD_ION_X, MO2C_MOD_ION_Y, MO2C_MOD_ION_FLAT)],
         tf=[(MO2C_TF_FAR_MOD_X, MO2C_TF_FAR_MOD_Y), (MO2C_TF_FAR_PURE_X, MO2C_TF_FAR_PURE_Y),
             (MO2C_TF_ION_MOD_X, MO2C_TF_ION_MOD_Y), (MO2C_TF_ION_PURE_X, MO2C_TF_ION_PURE_Y)]),
    dict(far=[(VC_FAR_X, VC_FAR_Y), (VC_MOD_FAR_X, VC_MOD_FAR_Y)],
         ion=[ionic(VC_ION_X, VC_ION_Y, VC_ION_FLAT), ionic(VC_MOD_ION_X, VC_MOD_ION_Y, VC_MOD_ION_FLAT)],
         tf=[(VC_TF_FAR_MOD_X, VC_TF_FAR_MOD_Y), (VC_TF_FAR_PURE_X, VC_TF_FAR_PURE_Y),
             (VC_TF_ION_MOD_X, VC_TF_ION_MOD_Y), (VC_TF_ION_PURE_X, VC_TF_ION_PURE_Y)]),
    dict(far=[(TIC_FAR_X, TIC_FAR_Y), (TIC_MOD_FAR_X, TIC_MOD_FAR_Y)],
         ion=[ionic(TIC_ION_X, TIC_ION_Y, TIC_ION_FLAT), ionic(TIC_MOD_ION_X, TIC_MOD_ION_Y, TIC_MOD_ION_FLAT)],
         tf=[(TIC_TF_FAR_MOD_X, TIC_TF_FAR_MOD_Y), (TIC_TF_FAR_PURE_X, TIC_TF_FAR_PURE_Y),
             (TIC_TF_ION_MOD_X, TIC_TF_ION_MOD_Y), (TIC_TF_ION_PURE_X, TIC_TF_ION_PURE_Y)]),
]

fig = go.Figure()
layout = dict(width=FIG_W, height=FIG_H, margin=dict(l=0, r=0, t=0, b=0),
              paper_bgcolor="white", plot_bgcolor="rgba(0,0,0,0)", showlegend=False)
annotations = []
shapes = []


def ann(text, x, y, fnt, xanchor="center", yanchor="middle", angle=0):
    annotations.append(dict(text=text, x=fx(x), y=fy(y), xref="paper", yref="paper",
                            showarrow=False, xanchor=xanchor, yanchor=yanchor,
                            textangle=angle, font=fnt))


for b, blk in enumerate(BLOCKS):
    k1, k2, k3, k4 = 4 * b + 1, 4 * b + 2, 4 * b + 3, 4 * b + 4
    last = b == 4
    T, S, B = TOPS[b], SPLITS[b], BOTS[b]

    # ---- axes ----
    layout[aname(k1, "x")] = dict(COMMON, domain=[fx(X_LEFT[0]), fx(X_LEFT[1])], anchor=aref(k1, "y"),
                                  range=POT_RANGE, side="top", mirror=True, tickmode="array",
                                  tickvals=POT_TICKS, showticklabels=False, minor=minor(0.05))
    layout[aname(k1, "y")] = dict(COMMON, domain=[fy(S), fy(T)], anchor=aref(k1, "x"),
                                  range=FAR_RANGES[b], mirror=True, tickmode="array",
                                  tickvals=FAR_TICKS[b], ticktext=FAR_TICKTEXT[b],
                                  tickfont=font(56), ticklabelstandoff=2, minor=minor(FAR_MINOR[b]))
    layout[aname(k2, "x")] = dict(COMMON, domain=[fx(X_LEFT[0]), fx(X_LEFT[1])], anchor=aref(k2, "y"),
                                  range=POT_RANGE, side="bottom", mirror=False, tickmode="array",
                                  tickvals=POT_TICKS, ticktext=POT_TICKTEXT, showticklabels=last,
                                  tickfont=font(58), ticklabelstandoff=2, minor=minor(0.05))
    layout[aname(k2, "y")] = dict(showline=True, linecolor=BLK, linewidth=LW, mirror=True, showgrid=False,
                                  zeroline=False, ticks="", showticklabels=False,
                                  domain=[fy(B), fy(S)], anchor=aref(k2, "x"), range=[0, 100])
    layout[aname(k3, "x")] = dict(COMMON, domain=[fx(X_MID[0]), fx(X_MID[1])], anchor=aref(k3, "y"),
                                  range=LOGF_RANGE, mirror="ticks", tickmode="array",
                                  tickvals=LOGF_TICKS, ticktext=LOGF_TICKTEXT, showticklabels=last,
                                  tickfont=font(58), ticklabelstandoff=2, minor=minor(0.1))
    layout[aname(k3, "y")] = dict(showline=True, linecolor=BLK, linewidth=LW, mirror=True, showgrid=False,
                                  zeroline=False, ticks="", showticklabels=False,
                                  domain=[fy(B), fy(T)], anchor=aref(k3, "x"), range=E_RANGES[b])
    layout[aname(k4, "x")] = dict(COMMON, domain=[fx(X_RIGHT[0]), fx(X_RIGHT[1])], anchor=aref(k4, "y"),
                                  range=LOGI_RANGE, mirror="ticks", tickmode="array",
                                  tickvals=LOGI_TICKS, ticktext=LOGI_TICKTEXT, showticklabels=last,
                                  tickfont=font(58), ticklabelstandoff=2, minor=minor(0.1))
    layout[aname(k4, "y")] = dict(COMMON, domain=[fy(B), fy(T)], anchor=aref(k4, "x"),
                                  range=E_RANGES[b], side="right", mirror=False, tickmode="array",
                                  tickvals=E_TICKS[b], ticktext=E_TICKTEXT[b],
                                  tickfont=font(56), ticklabelstandoff=11, minor=minor(E_MINOR[b]))

    # ---- faradaic traces ----
    for (xs, ys), col in zip(blk["far"], [BLK, RED]):
        fig.add_trace(go.Scatter(x=xs, y=ys, mode="lines", xaxis=aref(k1, "x"), yaxis=aref(k1, "y"),
                                 line=dict(color=col, width=f(3), shape="spline", smoothing=0.6)))
    # ---- ionic traces ----
    for (xs, ys), col in zip(blk["ion"], [BLK, RED]):
        fig.add_trace(go.Scatter(x=xs, y=ys, mode="lines", xaxis=aref(k2, "x"), yaxis=aref(k2, "y"),
                                 line=dict(color=col, width=f(2.6))))
    # ---- Tafel traces ----
    for i, ((xs, ys), col) in enumerate(zip(blk["tf"], [RED, BLK, RED, BLK])):
        k = k3 if i < 2 else k4
        fig.add_trace(go.Scatter(x=xs, y=ys, mode="markers", xaxis=aref(k, "x"), yaxis=aref(k, "y"),
                                 marker=dict(symbol="circle-open", size=f(17), color=col,
                                             line=dict(width=2, color=col))))
        p = np.polyfit(xs, ys, 1)
        xl = [min(xs), max(xs)]
        fig.add_trace(go.Scatter(x=xl, y=[float(v) for v in np.polyval(p, xl)], mode="lines",
                                 xaxis=aref(k, "x"), yaxis=aref(k, "y"),
                                 line=dict(color=col, width=f(2.6))))

    # ---- titles ----
    ann("Corriente<br>faradaica / mA", 120, (T + S) / 2, font(64), angle=-90)
    ann("Corriente<br>iónica / mA", 120, (S + B) / 2 + 12, font(64), angle=-90)
    ann("Potencial / V vs. ERH", 2774, (T + B) / 2, font(59), angle=90)

    # ---- material labels ----
    lx, ly = MAT_LEFT_POS[b]
    ann(MAT_LABELS[b], lx, ly, font(58, MAT_COLORS[b], SANS), xanchor="left")
    rx, ry = MAT_RIGHT_POS[b]
    ann(MAT_LABELS[b], rx, ry, font(58, MAT_COLORS[b], SANS), xanchor="right")

    # ---- slope labels ----
    slopes = [SLOPE_FAR_MOD[b], SLOPE_FAR_PURE[b], SLOPE_ION_MOD[b], SLOPE_ION_PURE[b]]
    for (sx, sy), v, col in zip(SLOPE_POS[b], slopes, [RED, BLK, RED, BLK]):
        ann(f"{v} mV·dec<sup>-1</sup>", sx, sy, font(50, col))

    # ---- legend ----
    x0, x1 = LEG_LINE_X[b]
    for ry_, col, txt in zip(LEG_ROWS[b], [BLK, RED], [LEG_PURE[b], LEG_MOD[b]]):
        shapes.append(dict(type="line", xref="paper", yref="paper", x0=fx(x0), x1=fx(x1),
                           y0=fy(ry_), y1=fy(ry_), line=dict(color=col, width=f(3))))
        ann(txt, x1 + 10, ry_ + 4, font(47, BLK, SERIF, bold=False), xanchor="left")

    # ---- m/z box and scale bar ----
    bx0, bx1 = MZ_BOX_X[b]
    shapes.append(dict(type="rect", xref="paper", yref="paper", x0=fx(bx0 + 13), x1=fx(bx1 + 13),
                       y0=fy(S + 118), y1=fy(S + 52), fillcolor=BLK, line=dict(width=0)))
    shapes.append(dict(type="rect", xref="paper", yref="paper", x0=fx(bx0), x1=fx(bx1),
                       y0=fy(S + 108), y1=fy(S + 42), fillcolor="white", line=dict(color="#666666", width=1.5)))
    ann("m/z = 2", (bx0 + bx1) / 2, S + 76, font(44))
    shapes.append(dict(type="line", xref="paper", yref="paper", x0=fx(BAR_X[b]), x1=fx(BAR_X[b]),
                       y0=fy(S + 135), y1=fy(S + 250), line=dict(color=BLK, width=f(3))))
    ann("2·10<sup>-7</sup> u.a.", BAR_X[b] + 14, S + 190, font(40), xanchor="left")

# ---- bottom axis titles ----
ann("Potencial / V vs. ERH", 865, 4242, font(60))
ann("Log (corriente faradaica)", 1706, 4242, font(55))
ann("Log (corriente iónica)", 2322, 4242, font(55))

layout["annotations"] = annotations
layout["shapes"] = shapes
fig.update_layout(**layout)
fig.write_html("out.html")
